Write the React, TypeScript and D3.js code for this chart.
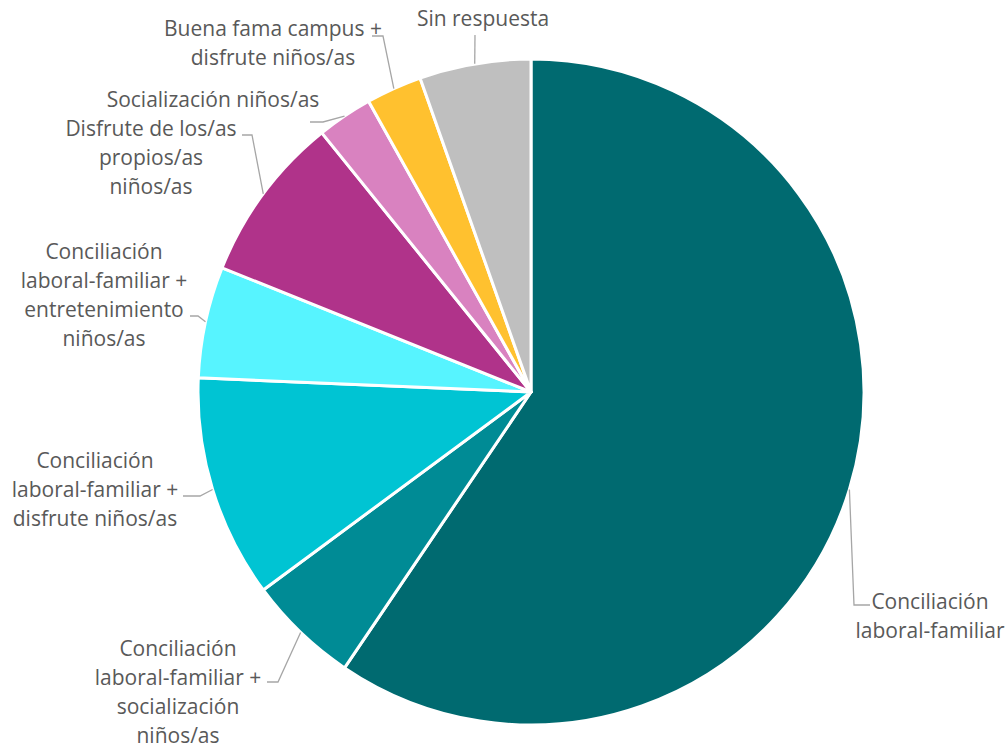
import React from "react";
import * as d3 from "d3";

const categories = [
  "Conciliación laboral-familiar",
  "Conciliación laboral-familiar + socialización niños/as",
  "Conciliación laboral-familiar + disfrute niños/as",
  "Conciliación laboral-familiar + entretenimiento niños/as",
  "Disfrute de los/as propios/as niños/as",
  "Socialización niños/as",
  "Buena fama campus + disfrute niños/as",
  "Sin respuesta",
];
const values = [22, 2, 4, 2, 3, 1, 1, 2];
const colors = ["#006A70", "#008B95", "#00C4D3", "#57F4FF", "#B0338A", "#D982C0", "#FFC12F", "#BFBFBF"];

// label layout: text lines, text center x, first line center y, elbow points (leader line)
const labelLayout = [
  { lines: ["Conciliación", "laboral-familiar"], x: 930, y: 601, pts: [[854, 605], [870, 605]] },
  { lines: ["Conciliación", "laboral-familiar +", "socialización", "niños/as"], x: 178, y: 648, pts: [[278, 682], [267, 682]] },
  { lines: ["Conciliación", "laboral-familiar +", "disfrute niños/as"], x: 95, y: 460, pts: [[200, 496], [183, 496]] },
  { lines: ["Conciliación", "laboral-familiar +", "entretenimiento", "niños/as"], x: 104, y: 251, pts: [[198, 316], [190, 316]] },
  { lines: ["Disfrute de los/as", "propios/as", "niños/as"], x: 151, y: 128, pts: [[252, 135], [242, 135]] },
  { lines: ["Socialización niños/as"], x: 213, y: 99, pts: [[323, 122], [310, 122]] },
  { lines: ["Buena fama campus +", "disfrute niños/as"], x: 273, y: 28, pts: [[383, 36], [372, 36]] },
  { lines: ["Sin respuesta"], x: 483, y: 18, pts: [[475, 35]] },
];

const W = 1008;
const H = 749;
const cx = 531;
const cy = 392;
const R = 333;
const LINE_H = 29;

export default function App() {
  const pie = d3.pie<number>().sort(null).value((d) => d);
  const arcs = pie(values);
  const arcGen = d3.arc<d3.PieArcDatum<number>>().innerRadius(0).outerRadius(R);

  return (
    <svg
      width={W}
      height={H}
      style={{ position: "absolute", left: 0, top: 0, background: "#fff" }}
      fontFamily="'Open Sans', sans-serif"
    >
      <g transform={`translate(${cx},${cy})`}>
        {arcs.map((a, i) => (
          <path key={i} d={arcGen(a) || ""} fill={colors[i]} stroke="#fff" strokeWidth={3} strokeLinejoin="round" />
        ))}
      </g>
      {arcs.map((a, i) => {
        const mid = (a.startAngle + a.endAngle) / 2;
        const sx = cx + R * Math.sin(mid);
        const sy = cy - R * Math.cos(mid);
        const L = labelLayout[i];
        const pts = [[sx, sy], ...L.pts];
        const line = d3.line()(pts as [number, number][]);
        return (
          <g key={i}>
            <path d={line || ""} fill="none" stroke="#A6A6A6" strokeWidth={1.3} />
            <text textAnchor="middle" fill="#595959" fontSize={21}>
              {L.lines.map((t, j) => (
                <tspan key={j} x={L.x} y={L.y + j * LINE_H} dominantBaseline="central">
                  {t}
                </tspan>
              ))}
            </text>
          </g>
        );
      })}
      <title>{categories.join(", ")}</title>
    </svg>
  );
}
